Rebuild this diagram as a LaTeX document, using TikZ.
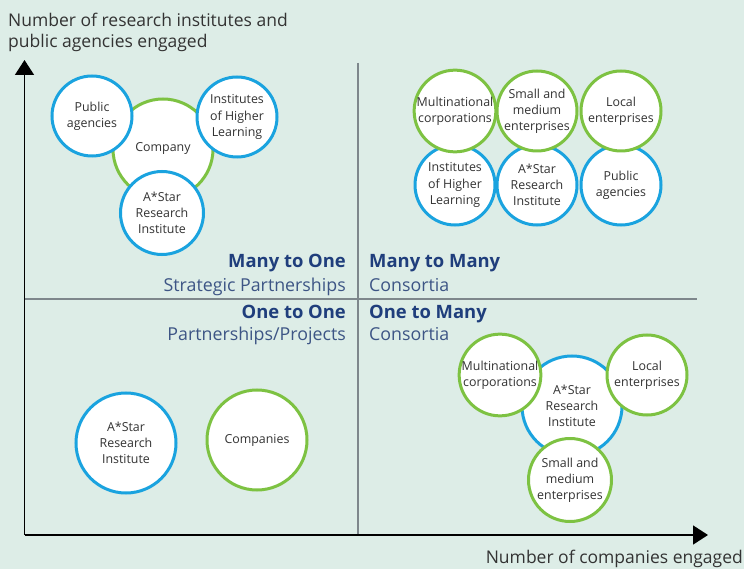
\documentclass[tikz,border=0pt]{standalone}
\usepackage{fontspec}
\setmainfont{Open Sans}
\usetikzlibrary{arrows.meta}
\definecolor{bg}{HTML}{DDEDE7}
\definecolor{cblue}{HTML}{1AA3DF}
\definecolor{cgreen}{HTML}{7DC242}
\definecolor{navy}{HTML}{1F3E7C}
\definecolor{lblue}{HTML}{3D5585}
\definecolor{divg}{HTML}{7E878C}
\definecolor{txt}{HTML}{333333}
\begin{document}
\begin{tikzpicture}[x=1pt,y=-1pt,
  bc/.style={circle,draw=cblue,line width=3pt,fill=white,inner sep=0pt,align=center,text=txt,font=\fontsize{12.4}{16.2}\selectfont},
  gc/.style={circle,draw=cgreen,line width=3pt,fill=white,inner sep=0pt,align=center,text=txt,font=\fontsize{12.4}{16.2}\selectfont},
  r40/.style={minimum size=80pt},
  r50/.style={minimum size=100pt},
  axis/.style={line width=1.6pt,-{Triangle[length=15pt,width=19pt]}},
  divider/.style={draw=divg,line width=1.8pt},
  qhead/.style={font=\fontsize{18.4}{20}\selectfont\bfseries,text=navy,inner sep=0pt},
  qsub/.style={font=\fontsize{17.8}{20}\selectfont,text=lblue,inner sep=0pt},
  axlab/.style={font=\fontsize{17.5}{22}\selectfont,text=txt,inner sep=0pt}]
\fill[bg] (0,0) rectangle (744,569);
\useasboundingbox (0,0) rectangle (744,569);
% axes and dividers
\coordinate (O) at (24.5,535);
\coordinate (ytop) at (24.5,60);
\coordinate (xend) at (708,535);
\coordinate (vtop) at (358,63);
\coordinate (vbot) at (358,535);
\coordinate (hl) at (24.5,299);
\coordinate (hr) at (697,299);
\draw[divider] (vtop) -- (vbot);
\draw[divider] (hl) -- (hr);
\draw[axis] (O) -- (ytop);
\draw[axis] (O) -- (xend);
% axis labels
\node[axlab,anchor=base west] (ylab1) at (8,27) {Number of research institutes and};
\node[axlab,anchor=base west] (ylab2) at (8,48) {public agencies engaged};
\node[axlab,anchor=base east] (xlab) at (743,563) {Number of companies engaged};
% quadrant labels
\node[qhead,anchor=base east] (m1) at (346,268) {Many to One};
\node[qsub,anchor=base east] (m1s) at (346,291) {Strategic Partnerships};
\node[qhead,anchor=base west] (mm) at (369,268) {Many to Many};
\node[qsub,anchor=base west] (mms) at (369,291) {Consortia};
\node[qhead,anchor=base east] (oo) at (346,318) {One to One};
\node[qsub,anchor=base east] (oos) at (346,340) {Partnerships/Projects};
\node[qhead,anchor=base west] (om) at (369,318) {One to Many};
\node[qsub,anchor=base west] (oms) at (369,340) {Consortia};
% top-left cluster
\node[gc,r50] (company) at (163,149) {Company};
\node[bc,r40] (pa1) at (92,116) {Public\\agencies};
\node[bc,r40] (ihl1) at (237,117) {Institutes\\of Higher\\Learning};
\node[bc,minimum size=83pt] (as1) at (162,213) {A*Star\\Research\\Institute};
% top-right grid
\node[bc,r40] (ihl2) at (455,185) {Institutes\\of Higher\\Learning};
\node[bc,r40] (as2) at (537,185) {A*Star\\Research\\Institute};
\node[bc,r40] (pa2) at (621,185) {Public\\agencies};
\node[gc,r40] (mnc2) at (455,111) {Multinational\\corporations};
\node[gc,r40] (sme2) at (537,111) {Small and\\medium\\enterprises};
\node[gc,r40] (le2) at (621,111) {Local\\enterprises};
% bottom-left
\node[bc,r50] (as3) at (126,443) {A*Star\\Research\\Institute};
\node[gc,r50] (comp3) at (257,440) {Companies};
% bottom-right cluster
\node[bc,r50] (as4) at (572,406) {A*Star\\Research\\Institute};
\node[gc,r40] (mnc4) at (500,375) {Multinational\\corporations};
\node[gc,r40] (le4) at (647,375) {Local\\enterprises};
\node[gc,minimum size=83pt] (sme4) at (570,480) {Small and\\medium\\enterprises};
\end{tikzpicture}
\end{document}
